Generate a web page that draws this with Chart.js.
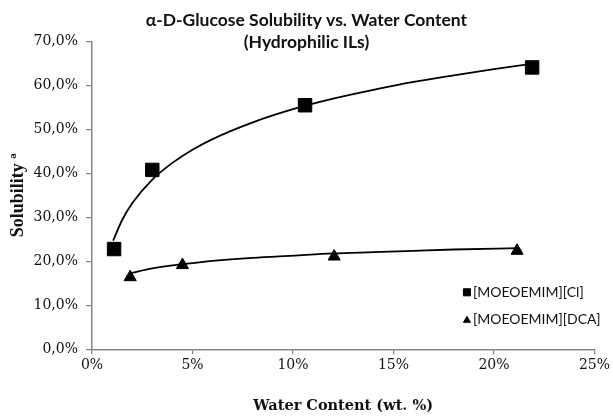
<!DOCTYPE html>
<html>
<head>
<meta charset="utf-8">
<title>Glucose solubility vs water content</title>
<script src="https://cdn.jsdelivr.net/npm/chart.js@4.4.1/dist/chart.umd.min.js"></script>
<style>
    html, body { margin: 0; padding: 0; background: #fff; }
    #chartBox { width: 613px; height: 417px; }
</style>
</head>
<body>
<div id="chartBox"><canvas id="solChart" width="613" height="417"></canvas></div>
<script>
// Measured points (x = water content wt.%, y = solubility %)
const waterCl = [1.1, 3.0, 10.6, 21.9];
const solubilityCl = [22.8, 40.8, 55.5, 64.1];
const waterDca = [1.9, 4.5, 12.05, 21.15];
const solubilityDca = [16.4, 19.15, 21.1, 22.4];

// Trend lines
const trendClX = [1.05, 1.5, 2, 3, 4, 5, 6, 8, 10, 12, 14, 16, 18, 20, 21.7];
const trendClY = [24.7, 29.4, 33.2, 38.6, 42.4, 45.4, 47.8, 51.6, 54.6, 57.0, 59.0, 60.8, 62.3, 63.7, 64.8];
const trendDcaX = [1.9, 3, 4, 5, 6, 8, 10, 12, 14, 16, 18, 21.2];
const trendDcaY = [17.3, 18.4, 19.1, 19.6, 20.1, 20.8, 21.3, 21.8, 22.1, 22.4, 22.7, 23.0];

const seriesNames = ['[MOEOEMIM][Cl]', '[MOEOEMIM][DCA]'];
const titleLines = ['\u03b1-D-Glucose Solubility vs. Water Content', '(Hydrophilic ILs)'];

const toPoints = (xs, ys) => xs.map((x, i) => ({ x: x, y: ys[i] }));

document.addEventListener('DOMContentLoaded', () => {
    const axisGrey = '#868686';
    const textColor = '#111';

    // legend sits inside the plot, bottom right
    const innerLegend = {
        id: 'innerLegend',
        afterDatasetsDraw(chart) {
            const { ctx, chartArea } = chart;
            const items = [
                { style: 'rect', radius: 5, text: seriesNames[0], dy: -57 },
                { style: 'triangle', radius: 4, text: seriesNames[1], dy: -30 }
            ];
            ctx.save();
            ctx.font = '14px Lato';
            ctx.textBaseline = 'middle';
            items.forEach(it => {
                const mx = chartArea.right - 127.5;
                const my = chartArea.bottom + it.dy;
                ctx.fillStyle = '#000';
                ctx.strokeStyle = '#000';
                ctx.lineWidth = 1;
                Chart.helpers.drawPoint(ctx, { pointStyle: it.style, radius: it.radius, borderWidth: 1 }, mx, my + (it.style === 'triangle' ? 1 : 0));
                ctx.fillStyle = textColor;
                ctx.fillText(it.text, mx + 6, my);
            });
            ctx.restore();
        }
    };

    new Chart(document.getElementById('solChart'), {
        type: 'scatter',
        data: {
            datasets: [
                {
                    label: seriesNames[0],
                    data: toPoints(waterCl, solubilityCl),
                    pointStyle: 'rect',
                    pointRadius: 9.5,
                    backgroundColor: '#000',
                    borderColor: '#000'
                },
                {
                    label: seriesNames[1],
                    data: toPoints(waterDca, solubilityDca),
                    pointStyle: 'triangle',
                    pointRadius: 7,
                    backgroundColor: '#000',
                    borderColor: '#000'
                },
                {
                    label: 'trend Cl',
                    data: toPoints(trendClX, trendClY),
                    showLine: true,
                    pointRadius: 0,
                    borderColor: '#000',
                    borderWidth: 1.8,
                    cubicInterpolationMode: 'monotone'
                },
                {
                    label: 'trend DCA',
                    data: toPoints(trendDcaX, trendDcaY),
                    showLine: true,
                    pointRadius: 0,
                    borderColor: '#000',
                    borderWidth: 1.8,
                    cubicInterpolationMode: 'monotone'
                }
            ]
        },
        options: {
            responsive: false,
            animation: false,
            devicePixelRatio: 1,
            layout: { padding: 0 },
            plugins: {
                legend: { display: false },
                tooltip: { enabled: false },
                title: {
                    display: true,
                    text: titleLines,
                    color: textColor,
                    font: { family: 'Lato', size: 17.5, weight: 'bold', lineHeight: 22 / 17.5 },
                    padding: { top: 9, bottom: -11.5 }
                }
            },
            scales: {
                x: {
                    type: 'linear',
                    min: 0,
                    max: 25,
                    afterFit: scale => { scale.height = 417 - 349.3; },
                    ticks: {
                        stepSize: 5,
                        color: textColor,
                        padding: 3,
                        font: { family: 'DejaVu Serif', size: 14 },
                        callback: v => v + '%'
                    },
                    grid: { drawOnChartArea: false, tickLength: 5, color: axisGrey, lineWidth: 1.3 },
                    border: { color: axisGrey, width: 1.5 },
                    title: {
                        display: true,
                        text: 'Water Content (wt. %)',
                        color: textColor,
                        font: { family: 'DejaVu Serif', size: 14.5, weight: 'bold' },
                        padding: { top: 0, bottom: 1.6 }
                    }
                },
                y: {
                    min: 0,
                    max: 70,
                    afterFit: scale => { scale.width = 92; },
                    ticks: {
                        stepSize: 10,
                        color: textColor,
                        padding: 8,
                        font: { family: 'DejaVu Serif', size: 14 },
                        callback: v => v.toFixed(1).replace('.', ',') + '%'
                    },
                    grid: { drawOnChartArea: false, tickLength: 6, color: axisGrey, lineWidth: 1.3 },
                    border: { color: axisGrey, width: 1.5 },
                    title: {
                        display: true,
                        text: 'Solubility \u00aa',
                        color: textColor,
                        font: { family: 'Liberation Serif', size: 18, weight: 'bold' },
                        padding: { top: 8, bottom: 0 }
                    }
                }
            }
        },
        plugins: [innerLegend]
    });
});
</script>
</body>
</html>
